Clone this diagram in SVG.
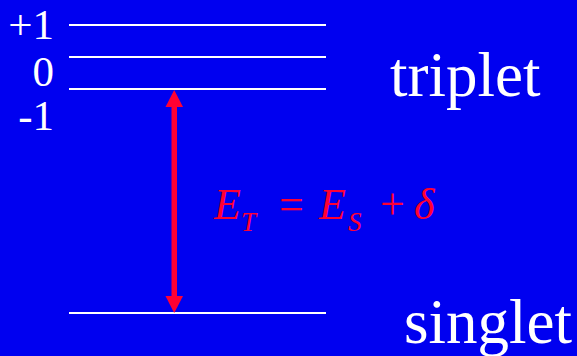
<svg xmlns="http://www.w3.org/2000/svg" width="577" height="356" viewBox="0 0 577 356">
<style>
.lvl{stroke:#ffffff;stroke-width:2}
.w{fill:#ffffff;font-family:"Liberation Serif","Times New Roman",serif}
.n{font-size:43px;text-anchor:end}
.r{fill:#ff0033;font-family:"Liberation Serif","Times New Roman",serif;font-style:italic}
</style>
<rect width="577" height="356" fill="#0000f0"/>
<g id="level-plus1"><line class="lvl" x1="69" y1="25" x2="326" y2="25"/><text class="w n" x="54" y="38.5">+1</text></g>
<g id="level-0"><line class="lvl" x1="69" y1="57" x2="326" y2="57"/><text class="w n" x="54" y="86">0</text></g>
<g id="level-minus1"><line class="lvl" x1="69" y1="89" x2="326" y2="89"/><text class="w n" x="54" y="130">-1</text></g>
<g id="triplet"><text class="w" x="390" y="96" font-size="63">triplet</text></g>
<g id="singlet"><line class="lvl" x1="69" y1="313" x2="326" y2="313"/><text class="w" x="404" y="343" font-size="63">singlet</text></g>
<g id="connectors">
<rect x="171.5" y="105" width="5.5" height="193" fill="#ff0033"/>
<polygon points="174.2,90 183,107 165.5,107" fill="#ff0033"/>
<polygon points="174.2,313 183,296 165.5,296" fill="#ff0033"/>
</g>
<g id="equation">
<text class="r" x="214" y="219" font-size="44">E</text>
<text class="r" x="241" y="231" font-size="27">T</text>
<text class="r" x="279" y="219" font-size="44" style="font-style:normal">=</text>
<text class="r" x="319" y="219" font-size="44">E</text>
<text class="r" x="348" y="231" font-size="27">S</text>
<text class="r" x="380" y="219" font-size="44" style="font-style:normal">+</text>
<text class="r" x="414" y="219" font-size="44">δ</text>
</g>
</svg>
